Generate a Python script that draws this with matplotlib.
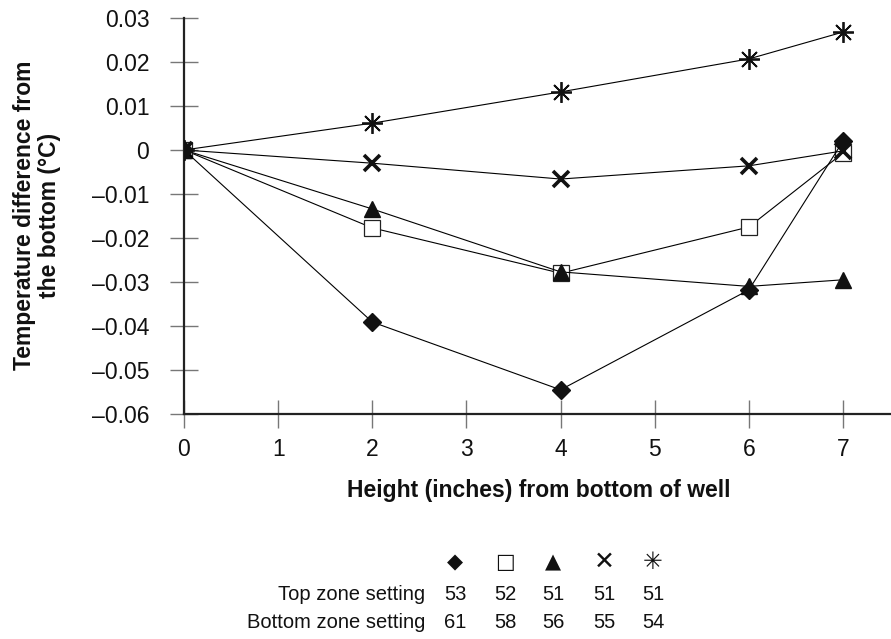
import matplotlib
matplotlib.use("Agg")
import matplotlib.pyplot as plt
from matplotlib.ticker import FuncFormatter

plt.rcParams['font.family'] = ['Liberation Sans', 'DejaVu Sans']

heights = [0, 2, 4, 6, 7]
s53_61 = [0, -0.0391, -0.0545, -0.0318, 0.0020]
s52_58 = [0, -0.0177, -0.0280, -0.0175, -0.0007]
s51_56 = [0, -0.0134, -0.0277, -0.0310, -0.0295]
s51_55 = [0, -0.0030, -0.0066, -0.0036, -0.0002]
s51_54 = [0, 0.0061, 0.0132, 0.0207, 0.0268]

top_zone = ["53", "52", "51", "51", "51"]
bottom_zone = ["61", "58", "56", "55", "54"]
symbols = ["\u25C6", "\u25A1", "\u25B2", "\u2715", "\u2733"]
symbol_sizes = [15, 15, 15, 18, 17]

xticks = [0, 1, 2, 3, 4, 5, 6, 7]
yticks = [0.03, 0.02, 0.01, 0, -0.01, -0.02, -0.03, -0.04, -0.05, -0.06]

W, H = 891, 639
fig = plt.figure(figsize=(W / 100, H / 100), dpi=100)
ax = fig.add_axes([184 / W, 1 - 414 / H, (W - 184) / W, (414 - 18) / H])

lw = 0.8
ax.plot(heights, s52_58, color='black', lw=lw, marker='s', ms=11,
        mfc='white', mec='#222222', mew=0.9, zorder=3)
ax.plot(heights, s51_56, color='black', lw=lw, marker='^', ms=11,
        mfc='#111111', mec='#111111', zorder=3)
ax.plot(heights, s51_55, color='black', lw=lw, marker='x', ms=12,
        mec='#111111', mew=2.6, zorder=3)
ax.plot(heights, s51_54, color='black', lw=lw, marker=(8, 2, 0), ms=15,
        mec='#111111', mew=1.3, zorder=3)
ax.plot(heights, s53_61, color='black', lw=lw, marker='D', ms=9,
        mfc='#111111', mec='#111111', zorder=4)

ax.set_xlim(0, (W - 184) / 94.14)
ax.set_ylim(-0.06, 0.03)
ax.set_xticks(xticks)
ax.set_yticks(yticks)

def yfmt(v, pos):
    if abs(v) < 1e-9:
        return "0"
    s = f"{abs(v):.2f}"
    return ("\u2013" + s) if v < 0 else s

ax.yaxis.set_major_formatter(FuncFormatter(yfmt))

for side in ['top', 'right']:
    ax.spines[side].set_visible(False)
for side in ['left', 'bottom']:
    ax.spines[side].set_linewidth(1.6)
    ax.spines[side].set_color('#222222')

ax.tick_params(axis='both', direction='inout', length=20, width=1.0,
               color='#777777', labelsize=16.5, labelcolor='#111111')
ax.tick_params(axis='y', pad=15)
ax.tick_params(axis='x', pad=7)

ax.set_xlabel("Height (inches) from bottom of well", fontsize=16.5,
              fontweight='bold', color='#111111')
ax.set_ylabel("Temperature difference from\nthe bottom (\u00b0C)", fontsize=16.5,
              fontweight='bold', color='#111111', linespacing=1.12)
ax.xaxis.set_label_coords((539 - 184) / 707, (414 - 490) / 396)
ax.xaxis.label.set_va('center')
ax.yaxis.set_label_coords((37 - 184) / 707, (414 - 215) / 396)
ax.yaxis.label.set_va('center')

col_x = [455, 505, 553, 604, 653]
for i, x in enumerate(col_x):
    fig.text(x / W, 1 - 562 / H, symbols[i], ha='center', va='center',
             fontsize=symbol_sizes[i], family=['DejaVu Sans'], color='#111111')
    fig.text(x / W, 1 - 594 / H, top_zone[i], ha='center', va='center',
             fontsize=14.5, color='#111111')
    fig.text(x / W, 1 - 622 / H, bottom_zone[i], ha='center', va='center',
             fontsize=14.5, color='#111111')
fig.text(425 / W, 1 - 594 / H, "Top zone setting", ha='right', va='center',
         fontsize=14.5, color='#111111')
fig.text(425 / W, 1 - 622 / H, "Bottom zone setting", ha='right', va='center',
         fontsize=14.5, color='#111111')

fig.savefig("out.png", dpi=100)
